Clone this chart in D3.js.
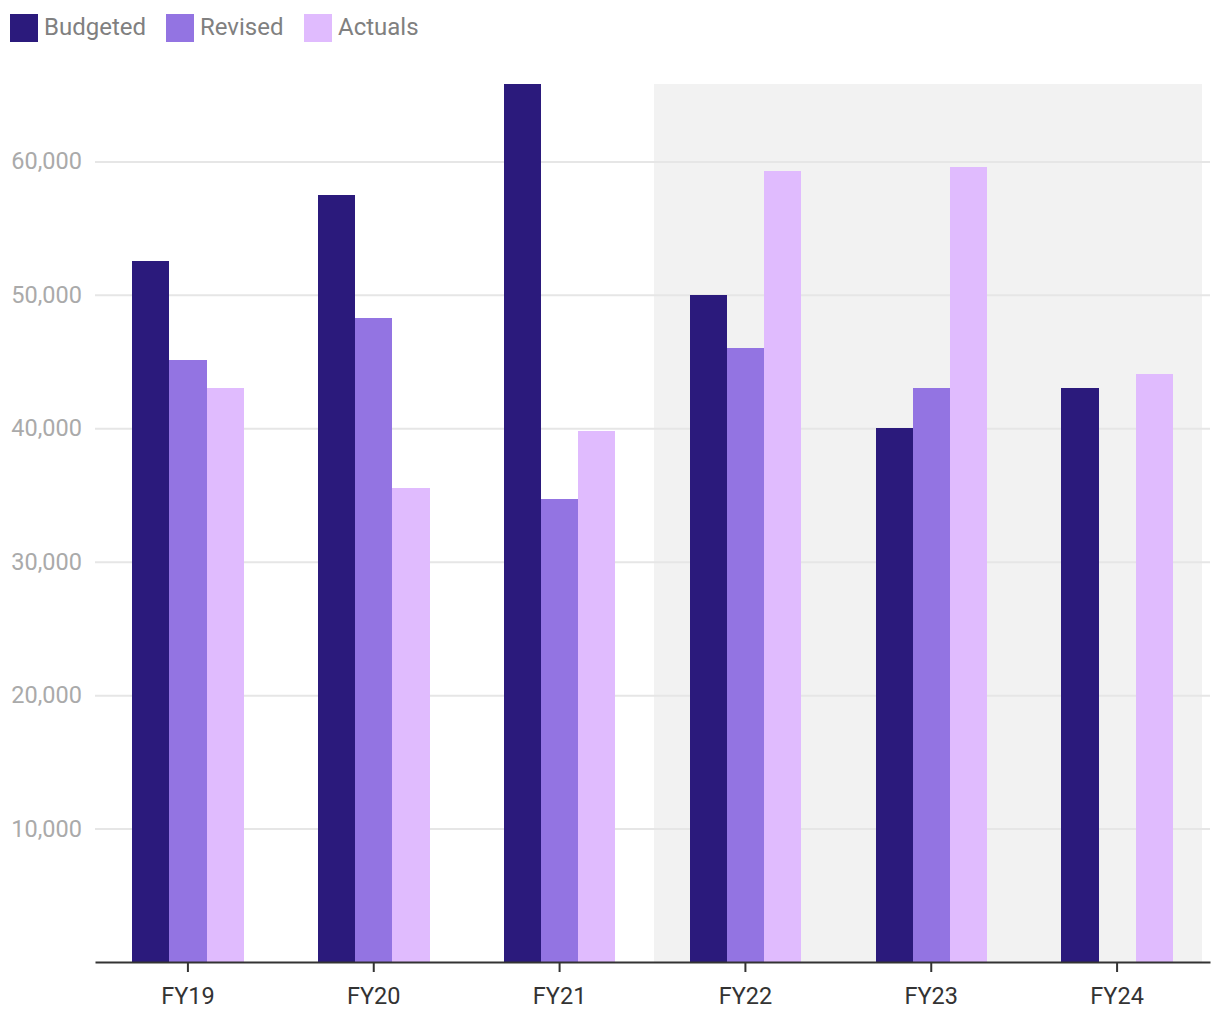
<!DOCTYPE html>
<html>
<head>
<meta charset="utf-8">
<script src="https://cdn.jsdelivr.net/npm/d3@7"></script>
<style>
  html, body { margin: 0; padding: 0; background: #fff; }
  svg { display: block; font-family: Roboto, "Noto Sans", sans-serif; }
</style>
</head>
<body>
<svg id="chart" width="1220" height="1020"></svg>
<script>
const categories = ["FY19", "FY20", "FY21", "FY22", "FY23", "FY24"];
const seriesNames = ["Budgeted", "Revised", "Actuals"];
const budgeted = [52500, 57450, 65800, 50000, 40000, 43000];
const revised  = [45100, 48250, 34700, 46000, 43000, null];
const actuals  = [43050, 35500, 39800, 59250, 59550, 44050];
const yTicks = [10000, 20000, 30000, 40000, 50000, 60000];
const shadedCategories = ["FY22", "FY23", "FY24"];

const colors = ["#2b1a7c", "#9374e2", "#e0bbfe"];
const seriesValues = [budgeted, revised, actuals];

const svg = d3.select("#chart");
const margin = { left: 95, right: 10, top: 84, bottom: 58 };
const W = 1220, H = 1020;
const x = d3.scaleBand().domain(categories).range([margin.left, W - margin.right]).padding(0);
const y = d3.scaleLinear().domain([0, 65800]).range([H - margin.bottom, margin.top]);
const inner = d3.scaleBand().domain(seriesNames).range([0, x.bandwidth() * 0.6]).padding(0);
const groupOffset = x.bandwidth() * 0.2;

// shaded forecast region
const sx0 = x(shadedCategories[0]) + 1.5;
const sx1 = x(shadedCategories[shadedCategories.length - 1]) + x.bandwidth() - 8;
svg.append("rect")
  .attr("x", sx0).attr("y", y.range()[1])
  .attr("width", sx1 - sx0).attr("height", y(0) - y.range()[1])
  .attr("fill", "#f2f2f2");

// gridlines + y labels
const yAxis = d3.axisLeft(y).tickValues(yTicks).tickSize(-(W - margin.right - margin.left)).tickPadding(13)
  .tickFormat(d3.format(","));
const gy = svg.append("g").attr("transform", `translate(${margin.left},0)`).call(yAxis);
gy.select(".domain").remove();
gy.selectAll(".tick line").attr("stroke", "#e6e6e6").attr("stroke-width", 2);
gy.selectAll(".tick text").attr("fill", "#aaaaaa").attr("font-size", 23.5).attr("font-family", "Roboto");

// bars
const rows = [];
categories.forEach((c, i) => {
  seriesNames.forEach((s, j) => {
    const v = seriesValues[j][i];
    if (v != null) rows.push({ c, s, v, color: colors[j] });
  });
});
svg.append("g").selectAll("rect").data(rows).join("rect")
  .attr("x", d => x(d.c) + groupOffset + inner(d.s))
  .attr("y", d => y(d.v))
  .attr("width", inner.bandwidth())
  .attr("height", d => y(0) - y(d.v))
  .attr("fill", d => d.color)
  .attr("shape-rendering", "crispEdges");

// x axis
const xAxis = d3.axisBottom(x).tickSize(10).tickSizeOuter(0).tickPadding(15);
const gx = svg.append("g").attr("transform", `translate(0,${y(0)})`).call(xAxis);
gx.select(".domain").attr("stroke", "#333").attr("stroke-width", 2);
gx.selectAll(".tick line").attr("stroke", "#333").attr("stroke-width", 2);
gx.selectAll(".tick text").attr("fill", "#333").attr("font-size", 23.5).attr("font-family", "Roboto");

// legend
const legend = svg.append("g");
const legendX = [10, 166, 304];
seriesNames.forEach((s, i) => {
  const g = legend.append("g").attr("transform", `translate(${legendX[i]},14)`);
  g.append("rect").attr("width", 28).attr("height", 28).attr("fill", colors[i]);
  g.append("text").attr("x", 34).attr("y", 21).text(s)
    .attr("fill", "#808080").attr("font-size", 24).attr("font-family", "Roboto");
});
</script>
</body>
</html>
